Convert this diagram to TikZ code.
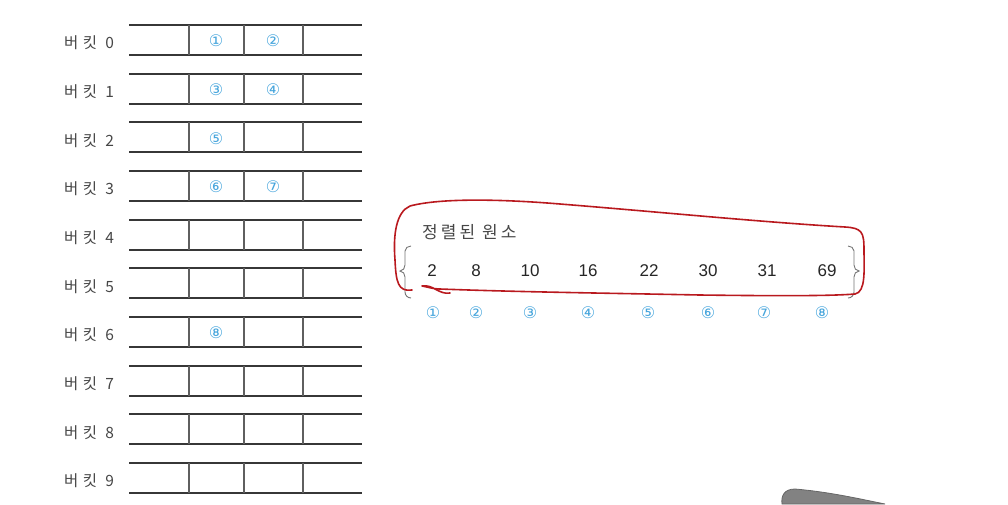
\documentclass[tikz,border=0pt]{standalone}
\usepackage{fontspec}
\setmainfont{Liberation Sans}
\newfontfamily\krfont[LetterSpace=30]{Noto Sans CJK KR}
\newfontfamily\krtitle[LetterSpace=18]{Noto Sans CJK KR}
\newfontfamily\circfont{DejaVu Sans}
\definecolor{txtgray}{RGB}{70,70,70}
\definecolor{linegray}{RGB}{55,55,55}
\definecolor{cyanblue}{RGB}{70,165,220}
\definecolor{penred}{RGB}{185,25,30}
\definecolor{pengray}{RGB}{130,130,130}
\begin{document}
\begin{tikzpicture}[x=1pt,y=-1pt,
  bucketlabel/.style={text=txtgray,font=\krfont\fontsize{15.5}{15.5}\selectfont,inner sep=0pt},
  hline/.style={draw=linegray,line width=1.8pt},
  vline/.style={draw=linegray!80,line width=1.3pt},
  circnum/.style={text=cyanblue,font=\circfont\fontsize{16}{16}\selectfont,inner sep=0pt},
  sortnum/.style={text=black!85,font=\fontsize{17}{17}\selectfont,inner sep=0pt},
  brace/.style={draw=black!55,line width=0.9pt},
  loop/.style={draw=penred,line width=1.6pt,line join=round,line cap=round}]
\useasboundingbox (0,0) rectangle (1008,504);
% buckets
\foreach \i in {0,...,9} {
  \pgfmathsetmacro\yc{40+48.67*\i}
  \node[bucketlabel] (bl\i) at (89,\yc+3) {버킷 \i};
  \draw[hline] (129,\yc-15) -- (362,\yc-15);
  \draw[hline] (129,\yc+15) -- (362,\yc+15);
  \foreach \x in {189,244,303} \draw[vline] (\x,\yc-15) -- (\x,\yc+15);
}
% circled numbers in buckets
\node[circnum] (c1) at (216,41) {①};
\node[circnum] (c2) at (273,41) {②};
\node[circnum] (c3) at (216,89.7) {③};
\node[circnum] (c4) at (273,89.7) {④};
\node[circnum] (c5) at (216,138.3) {⑤};
\node[circnum] (c6) at (216,187) {⑥};
\node[circnum] (c7) at (273,187) {⑦};
\node[circnum] (c8) at (216,333) {⑧};
% sorted elements
\node[text=txtgray,font=\krtitle\fontsize{17}{17}\selectfont,inner sep=0pt,anchor=west] (title) at (422,232) {정렬된 원소};
\foreach \n/\x [count=\k] in {2/432,8/476,10/530,16/588,22/649,30/708,31/767,69/827} {
  \node[sortnum] (s\k) at (\x,271) {\n};
}
\foreach \c/\x [count=\k] in {①/433,②/476,③/530,④/588,⑤/648,⑥/708,⑦/764,⑧/822} {
  \node[circnum] (o\k) at (\x,313) {\c};
}
% braces
\draw[brace] (411,246) to[out=180,in=90] (405,251) -- (405,265) to[out=-90,in=0] (400,271) to[out=0,in=90] (405,277) -- (405,292) to[out=-90,in=180] (411,298);
\draw[brace] (848,246) to[out=0,in=90] (854,251) -- (854,265) to[out=-90,in=180] (859,271) to[out=180,in=90] (854,277) -- (854,292) to[out=-90,in=0] (848,298);
% red hand-drawn loop
\draw[loop] (450,293) to[out=190,in=10] (422,286) to[out=-10,in=180] (440,289)
  .. controls (520,292) and (600,293) .. (700,295)
  .. controls (780,296) and (830,296) .. (855,294)
  .. controls (866,292) and (864,270) .. (864,250)
  .. controls (864,232) and (862,228) .. (845,227)
  .. controls (760,222) and (660,212) .. (560,204)
  .. controls (500,199) and (440,198) .. (410,206)
  .. controls (396,212) and (393,235) .. (395,260)
  .. controls (396,282) and (398,292) .. (412,290);
% grey pen tip
\fill[pengray,draw=black!60,line width=0.8pt] (782,504) .. controls (781,496) and (784,489) .. (795,489) .. controls (830,492) and (860,499) .. (885,504) -- cycle;
\end{tikzpicture}
\end{document}
